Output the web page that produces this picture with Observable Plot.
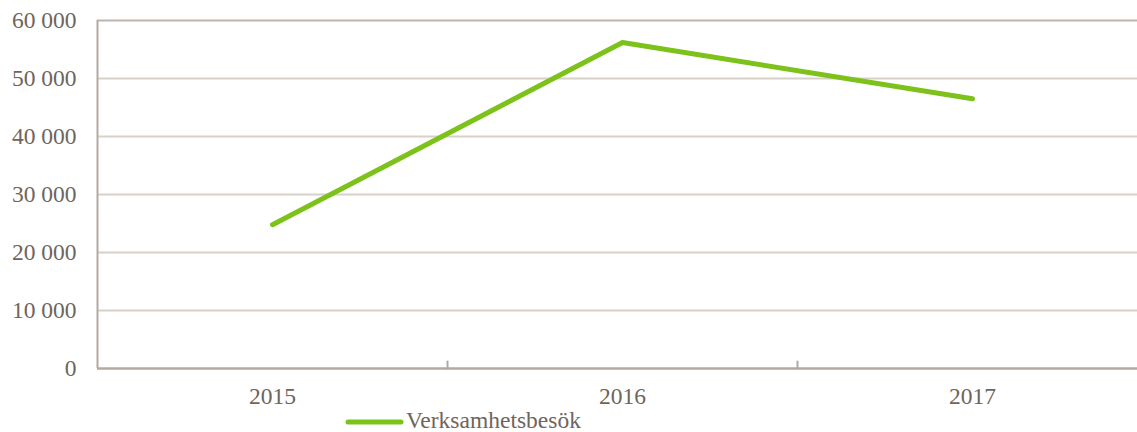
<!DOCTYPE html>
<html>
<head>
<meta charset="utf-8">
<script src="https://cdn.jsdelivr.net/npm/d3@7"></script>
<script src="https://cdn.jsdelivr.net/npm/@observablehq/plot@0.6"></script>
<style>
  html, body { margin: 0; padding: 0; background: #fff; overflow: hidden; }
  #chart svg { overflow: hidden; }
  #legend { position: relative; width: 1137px; height: 24px; }
</style>
</head>
<body>
<div id="chart"></div>
<div id="legend"></div>
<script>
const years = [2015, 2016, 2017];
const visits = [24800, 56200, 46500];
const seriesName = "Verksamhetsbesök";
const yTicks = [0, 10000, 20000, 30000, 40000, 50000, 60000];
const bandEdges = [2015.5, 2016.5];

const data = years.map((y, i) => ({year: y, value: visits[i]}));

const textColor = "#6f655b";
const axisColor = "#b3a99f";
const gridColor = "#d8d1ca";
const green = "#7dc21a";
const font = "'Liberation Serif', 'Times New Roman', serif";

const fmt = d => d3.format(",")(d).replace(/,/g, " ");

const chart = Plot.plot({
  width: 1137,
  height: 408,
  marginLeft: 97,
  marginTop: 20,
  marginBottom: 40,
  marginRight: 0,
  style: {fontFamily: font, fontSize: "23.5px", color: textColor, background: "#fff"},
  x: {type: "linear", domain: [2014.5, 2017.5], range: [97, 1147]},
  y: {domain: [0, 60000], range: [368, 20]},
  marks: [
    Plot.ruleY(yTicks.filter(d => d > 0 && d < 60000), {stroke: gridColor, strokeWidth: 2}),
    Plot.ruleY([60000], {stroke: "#bdb4ab", strokeWidth: 2}),
    Plot.ruleY([0], {stroke: axisColor, strokeWidth: 2.5}),
    Plot.ruleX([2014.5], {stroke: axisColor, strokeWidth: 2}),
    Plot.vector(bandEdges, {
      x: d => d, y: () => 0, length: 7, anchor: "start", rotate: 0,
      shape: {draw(c, l) { c.moveTo(0, 0); c.lineTo(0, -l); }},
      stroke: axisColor, strokeWidth: 2
    }),
    Plot.axisY({ticks: yTicks, tickSize: 0, tickPadding: 21, tickFormat: fmt, fill: textColor, fontSize: 23.5, label: null}),
    Plot.axisX({ticks: years, tickSize: 0, tickPadding: 19, tickFormat: d => String(d), fill: textColor, fontSize: 23.5, label: null}),
    Plot.line(data, {x: "year", y: "value", stroke: green, strokeWidth: 5, strokeLinecap: "round", strokeLinejoin: "round"})
  ]
});
document.getElementById("chart").appendChild(chart);

const lg = d3.select("#legend").append("svg").attr("width", 1137).attr("height", 24);
lg.append("line").attr("x1", 348).attr("x2", 401).attr("y1", 14).attr("y2", 14)
  .attr("stroke", green).attr("stroke-width", 5).attr("stroke-linecap", "round");
lg.append("text").attr("x", 406).attr("y", 20).attr("fill", textColor)
  .style("font-family", font).style("font-size", "23.5px").text(seriesName);
</script>
</body>
</html>
